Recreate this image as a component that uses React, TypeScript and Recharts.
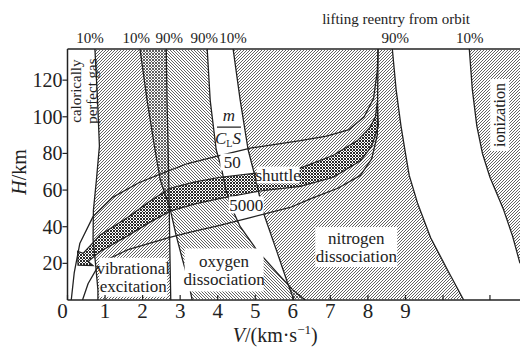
import { ComposedChart, Label, Scatter, XAxis, YAxis } from 'recharts';

type Pt = { v: number; h: number };

const X_MAX = 12.05;
const Y_MAX = 137;
const SERIF = "'Liberation Serif', 'Times New Roman', serif";
const INK = '#222';

// boundary curves of the gas-effect bands (V in km/s, H in km)
const vib10: Pt[] = [
  { v: 0.73, h: 137 }, { v: 0.8, h: 109 }, { v: 0.85, h: 84 }, { v: 0.77, h: 65.5 },
  { v: 0.69, h: 49 }, { v: 0.68, h: 33 }, { v: 0.75, h: 19 }, { v: 0.81, h: 5.5 }, { v: 0.81, h: 0 },
];
const vib90: Pt[] = [
  { v: 2.63, h: 137 }, { v: 2.65, h: 109 }, { v: 2.68, h: 82 }, { v: 2.71, h: 49 },
  { v: 2.73, h: 22 }, { v: 2.75, h: 0 },
];
const oxy10: Pt[] = [
  { v: 1.93, h: 137 }, { v: 2.12, h: 109 }, { v: 2.33, h: 82 }, { v: 2.47, h: 65.5 },
  { v: 2.73, h: 50 }, { v: 2.89, h: 35.5 }, { v: 3.05, h: 23 }, { v: 3.21, h: 11 }, { v: 3.32, h: 0 },
];
const oxy90: Pt[] = [
  { v: 3.72, h: 137 }, { v: 3.8, h: 109 }, { v: 3.96, h: 82 }, { v: 4.1, h: 72 },
  { v: 4.22, h: 60 }, { v: 4.4, h: 49 }, { v: 4.6, h: 40 }, { v: 5.05, h: 27 },
  { v: 5.59, h: 14.7 }, { v: 6.0, h: 5.5 }, { v: 6.33, h: 0 },
];
const nit10: Pt[] = [
  { v: 4.41, h: 137 }, { v: 4.6, h: 109 }, { v: 4.81, h: 82 }, { v: 5.0, h: 67 },
  { v: 5.21, h: 48 }, { v: 5.59, h: 25.6 }, { v: 5.85, h: 10 }, { v: 6.03, h: 0 },
];
const nit90: Pt[] = [
  { v: 8.65, h: 137 }, { v: 8.75, h: 115 }, { v: 8.88, h: 95 }, { v: 9.0, h: 80 },
  { v: 9.1, h: 68 }, { v: 9.32, h: 53 }, { v: 9.67, h: 34 }, { v: 10.12, h: 16.4 }, { v: 10.55, h: 0 },
];
const ion10: Pt[] = [
  { v: 10.7, h: 137 }, { v: 10.78, h: 115 }, { v: 10.9, h: 95 }, { v: 11.05, h: 80 },
  { v: 11.25, h: 67 }, { v: 11.6, h: 50 }, { v: 11.85, h: 35 }, { v: 12.05, h: 20 },
];
const ionCorner: Pt[] = [{ v: 12.05, h: 137 }];

// reentry trajectories, m/(C_L S) = 50 and 5000, and the shuttle corridor
const line50: Pt[] = [
  { v: 0.1, h: 0 }, { v: 0.18, h: 15 }, { v: 0.33, h: 31 }, { v: 0.68, h: 45.5 },
  { v: 1.2, h: 56 }, { v: 1.9, h: 64 }, { v: 2.5, h: 69 }, { v: 3.2, h: 74.5 },
  { v: 4.07, h: 79 }, { v: 4.9, h: 83 }, { v: 6.2, h: 87 }, { v: 6.9, h: 89.5 },
  { v: 7.5, h: 93 }, { v: 7.9, h: 100 }, { v: 8.15, h: 110 }, { v: 8.25, h: 125 }, { v: 8.27, h: 137 },
];
const line5000: Pt[] = [
  { v: 0.4, h: 0 }, { v: 0.55, h: 9 }, { v: 0.79, h: 17.5 }, { v: 1.1, h: 22.5 },
  { v: 1.59, h: 27.3 }, { v: 2.7, h: 34 }, { v: 3.27, h: 37 }, { v: 4.0, h: 40.5 },
  { v: 4.87, h: 45 }, { v: 5.93, h: 50.5 }, { v: 6.5, h: 55.5 }, { v: 7.2, h: 61 },
  { v: 7.8, h: 68 }, { v: 8.1, h: 77 }, { v: 8.25, h: 90 }, { v: 8.27, h: 137 },
];
const shuttleUpper: Pt[] = [
  { v: 0.42, h: 25.5 }, { v: 0.87, h: 35.5 }, { v: 1.6, h: 45 }, { v: 2.2, h: 54 },
  { v: 2.73, h: 61 }, { v: 3.4, h: 64.5 }, { v: 4.07, h: 67 }, { v: 5.13, h: 69.5 },
  { v: 6.2, h: 72 }, { v: 7.08, h: 79 }, { v: 7.72, h: 87 }, { v: 8.05, h: 94 },
  { v: 8.2, h: 100 }, { v: 8.25, h: 108 },
];
const shuttleLower: Pt[] = [
  { v: 0.55, h: 21 }, { v: 0.87, h: 26.5 }, { v: 1.6, h: 35 }, { v: 2.2, h: 42.5 },
  { v: 2.73, h: 48.5 }, { v: 3.4, h: 52.5 }, { v: 4.07, h: 55.5 }, { v: 5.13, h: 59.5 },
  { v: 6.2, h: 62 }, { v: 7.08, h: 67 }, { v: 7.8, h: 76 }, { v: 8.1, h: 84 }, { v: 8.28, h: 95 },
];
const arrowTip: Pt = { v: 0.28, h: 19 };
const arrowBarbUp: Pt = { v: 0.27, h: 26.5 };
const arrowBarbLow: Pt = { v: 0.68, h: 18.8 };

const bottomTicks = [0, 1, 2, 3, 4, 5, 6, 7, 8, 9, 10, 11.25];
const bottomTickLabels = ['0', '1', '2', '3', '4', '5', '6', '7', '8', '9', '', ''];
const leftTicks = [20, 40, 60, 80, 100, 120];
const topTicks = [0.6, 1.83, 2.71, 3.64, 4.41, 8.73, 10.71];
const topTickLabels = ['10%', '10%', '90%', '90%', '10%', '90%', '10%'];

const band = (a: Pt[], b: Pt[]) => [...a, ...[...b].reverse()];
const shuttleBand = [arrowTip, arrowBarbUp, ...shuttleUpper, ...[...shuttleLower].reverse(), arrowBarbLow];
const topAnchors: Pt[] = topTicks.map((v) => ({ v, h: Y_MAX }));

const pathOf = (pts: { x: number; y: number }[], close: boolean) =>
  pts.map((p, i) => `${i ? 'L' : 'M'}${p.x},${p.y}`).join(' ') + (close ? ' Z' : '');

const noDot = () => <g />;

const fillSeries = (key: string, data: Pt[], fill: string, stroke = 'none') => (
  <Scatter
    key={key}
    data={data}
    shape={noDot}
    isAnimationActive={false}
    line={(p: any) => <path d={pathOf(p.points, true)} fill={fill} stroke={stroke} strokeWidth={1.2} />}
  />
);

const curveSeries = (key: string, data: Pt[], width = 1.3) => (
  <Scatter
    key={key}
    data={data}
    shape={noDot}
    isAnimationActive={false}
    line={(p: any) => (
      <path d={pathOf(p.points, false)} fill="none" stroke={INK} strokeWidth={width} strokeLinejoin="round" />
    )}
  />
);

type TextLabel = { key: string; at: Pt; w: number; h: number; lines: string[]; size: number; box: boolean; rotate?: boolean };

const textLabels: TextLabel[] = [
  { key: 'vib', at: { v: 1.75, h: 12.4 }, w: 68, h: 39, lines: ['vibrational', 'excitation'], size: 17, box: true },
  { key: 'oxy', at: { v: 4.17, h: 16.4 }, w: 79, h: 43, lines: ['oxygen', 'dissociation'], size: 17, box: true },
  { key: 'nit', at: { v: 7.69, h: 28.9 }, w: 82, h: 40, lines: ['nitrogen', 'dissociation'], size: 17, box: true },
  { key: 'l50', at: { v: 4.39, h: 75.3 }, w: 24, h: 17, lines: ['50'], size: 17, box: true },
  { key: 'shuttle', at: { v: 5.61, h: 68.2 }, w: 43, h: 17, lines: ['shuttle'], size: 17, box: true },
  { key: 'l5000', at: { v: 4.76, h: 51.9 }, w: 35, h: 17, lines: ['5000'], size: 17, box: true },
  { key: 'ion', at: { v: 11.51, h: 101 }, w: 19, h: 72, lines: ['ionization'], size: 16, box: true, rotate: true },
  { key: 'cpg', at: { v: 0.45, h: 114 }, w: 0, h: 0, lines: ['calorically', 'perfect gas'], size: 15, box: false, rotate: true },
];
const fractionAt: Pt = { v: 4.3, h: 94.4 };

const labelSeries = (l: TextLabel) => (
  <Scatter
    key={l.key}
    data={[l.at]}
    isAnimationActive={false}
    shape={(p: any) => {
      const lh = l.size * 1.05;
      const first = -((l.lines.length - 1) * lh) / 2;
      const body = l.lines.map((t, i) => (
        <text
          key={t}
          x={0}
          y={first + i * lh}
          dy="0.33em"
          textAnchor="middle"
          fontFamily={SERIF}
          fontSize={l.size}
          fill={INK}
        >
          {t}
        </text>
      ));
      return (
        <g transform={`translate(${p.cx},${p.cy})`}>
          {l.box && <rect x={-l.w / 2} y={-l.h / 2} width={l.w} height={l.h} fill="#fff" />}
          <g transform={l.rotate ? 'rotate(-90)' : undefined}>{body}</g>
        </g>
      );
    }}
  />
);

const fractionSeries = (
  <Scatter
    key="fraction"
    data={[fractionAt]}
    isAnimationActive={false}
    shape={(p: any) => (
      <g fontFamily={SERIF} fill={INK} fontStyle="italic" fontSize={17}>
        <text x={p.cx} y={p.cy - 6} textAnchor="middle">m</text>
        <line x1={p.cx - 12} x2={p.cx + 12} y1={p.cy} y2={p.cy} stroke={INK} strokeWidth={1.2} />
        <text x={p.cx - 1} y={p.cy + 17} textAnchor="middle">
          C<tspan fontSize={10} fontStyle="normal" dy={3}>L</tspan>
          <tspan dy={-3}>S</tspan>
        </text>
      </g>
    )}
  />
);

const BottomTick = (props: any) => {
  const { x, y, payload } = props;
  const text = bottomTickLabels[bottomTicks.indexOf(payload.value)];
  return (
    <g>
      <line x1={x} x2={x} y1={y} y2={y - 5} stroke={INK} strokeWidth={1.2} />
      {text && (
        <text x={x + (payload.value === 0 ? -5 : 0)} y={y + 18} textAnchor="middle" fontFamily={SERIF} fontSize={21} fill={INK}>
          {text}
        </text>
      )}
    </g>
  );
};

const LeftTick = (props: any) => {
  const { x, y, payload } = props;
  return (
    <g>
      <line x1={x - 5} x2={x} y1={y} y2={y} stroke={INK} strokeWidth={1.2} />
      <text x={x - 5} y={y} dy="0.34em" textAnchor="end" fontFamily={SERIF} fontSize={20} fill={INK}>
        {payload.value}
      </text>
    </g>
  );
};

const TopTick = (props: any) => {
  const { x, y, payload } = props;
  return (
    <text x={x} y={y - 6} textAnchor="middle" fontFamily={SERIF} fontSize={15} fill={INK}>
      {topTickLabels[topTicks.indexOf(payload.value)]}
    </text>
  );
};

const renderXLabel = (props: any) => {
  const vb = props.viewBox;
  return (
    <text x={vb.x + vb.width * 0.459} y={vb.y + 42} textAnchor="middle" fontFamily={SERIF} fontSize={20} fill={INK}>
      <tspan fontStyle="italic">V</tspan>/(km·s
      <tspan fontSize={13} dy={-8}>−1</tspan>
      <tspan dy={8}>)</tspan>
    </text>
  );
};

const renderYLabel = (props: any) => {
  const vb = props.viewBox;
  const cx = 19;
  const cy = vb.y + vb.height * 0.49;
  return (
    <text x={cx} y={cy} dy="0.33em" transform={`rotate(-90 ${cx} ${cy})`} textAnchor="middle" fontFamily={SERIF} fontSize={20} fill={INK}>
      <tspan fontStyle="italic">H</tspan>/km
    </text>
  );
};

const renderTopLabel = (props: any) => {
  const vb = props.viewBox;
  return (
    <text x={vb.x + (8.75 / X_MAX) * vb.width} y={vb.y + 24} textAnchor="middle" fontFamily={SERIF} fontSize={15} fill={INK}>
      lifting reentry from orbit
    </text>
  );
};

export default function App() {
  return (
    <div style={{ position: 'absolute', left: 0, top: 0, width: 520, height: 349, background: '#fff' }}>
      <svg width={0} height={0} style={{ position: 'absolute' }}>
        <defs>
          <pattern id="hatchR" patternUnits="userSpaceOnUse" width={3} height={3}>
            <path d="M0,3 L3,0 M-1,1 L1,-1 M2,4 L4,2" stroke="#5a5a5a" strokeWidth={0.95} />
          </pattern>
          <pattern id="hatchL" patternUnits="userSpaceOnUse" width={3} height={3}>
            <path d="M0,0 L3,3 M-1,2 L1,4 M2,-1 L4,1" stroke="#5a5a5a" strokeWidth={0.95} />
          </pattern>
          <pattern id="cross" patternUnits="userSpaceOnUse" width={3} height={3}>
            <rect width={3} height={3} fill="#fff" />
            <path d="M0,0 L3,3 M0,3 L3,0" stroke="#2a2a2a" strokeWidth={1} />
          </pattern>
        </defs>
      </svg>
      <ComposedChart width={520} height={349} margin={{ top: 0, right: 0, bottom: 19, left: 0 }}>
        <XAxis
          dataKey="v"
          type="number"
          domain={[0, X_MAX]}
          allowDataOverflow
          ticks={bottomTicks}
          interval={0}
          height={30}
          tickSize={0}
          tickMargin={0}
          tickLine={false}
          tick={BottomTick}
          axisLine={{ stroke: INK, strokeWidth: 1.5 }}
        >
          <Label content={renderXLabel} />
        </XAxis>
        <XAxis
          xAxisId="top"
          dataKey="v"
          orientation="top"
          type="number"
          domain={[0, X_MAX]}
          allowDataOverflow
          ticks={topTicks}
          interval={0}
          height={49}
          tickSize={0}
          tickMargin={0}
          tickLine={false}
          tick={TopTick}
          axisLine={{ stroke: INK, strokeWidth: 1.5 }}
        >
          <Label content={renderTopLabel} />
        </XAxis>
        <YAxis
          dataKey="h"
          type="number"
          domain={[0, Y_MAX]}
          allowDataOverflow
          ticks={leftTicks}
          interval={0}
          width={67.5}
          tickSize={0}
          tickMargin={0}
          tickLine={false}
          tick={LeftTick}
          axisLine={{ stroke: INK, strokeWidth: 1.5 }}
        >
          <Label content={renderYLabel} />
        </YAxis>

        <Scatter xAxisId="top" data={topAnchors} shape={noDot} isAnimationActive={false} />

        {fillSeries('vibFill', band(vib10, vib90), 'url(#hatchR)')}
        {fillSeries('oxyFill', band(oxy10, oxy90), 'url(#hatchL)')}
        {fillSeries('nitFill', band(nit10, nit90), 'url(#hatchR)')}
        {fillSeries('ionFill', [...ion10, ...ionCorner], 'url(#hatchR)')}
        {fillSeries('shuttleFill', shuttleBand, 'url(#cross)', INK)}

        {curveSeries('vib10', vib10)}
        {curveSeries('vib90', vib90)}
        {curveSeries('oxy10', oxy10)}
        {curveSeries('oxy90', oxy90)}
        {curveSeries('nit10', nit10)}
        {curveSeries('nit90', nit90)}
        {curveSeries('ion10', ion10)}
        {curveSeries('line50', line50)}
        {curveSeries('line5000', line5000)}

        {textLabels.map(labelSeries)}
        {fractionSeries}
      </ComposedChart>
    </div>
  );
}
